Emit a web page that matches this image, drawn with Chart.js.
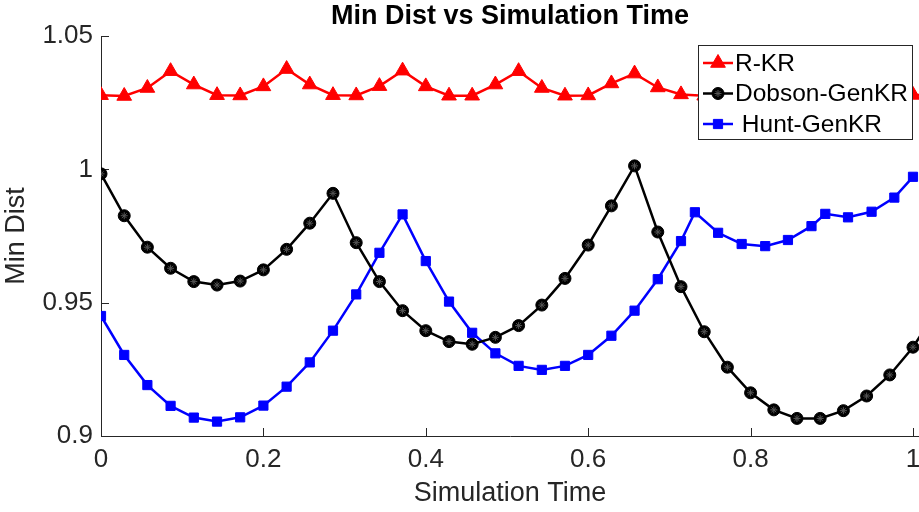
<!DOCTYPE html>
<html>
<head>
<meta charset="utf-8">
<script src="https://cdn.jsdelivr.net/npm/chart.js@4.4.1/dist/chart.umd.min.js"></script>
<style>
  html, body { margin: 0; padding: 0; background: #fff; overflow: hidden; }
  #wrap { width: 919px; height: 512px; position: relative; }
</style>
</head>
<body>
<div id="wrap"><canvas id="chart"></canvas></div>
<script>
// sample times for R-KR and Dobson-GenKR (last one lies just past the visible axis)
const time = [0, 0.0286, 0.0571, 0.0857, 0.1143, 0.1429, 0.1714, 0.2, 0.2286, 0.2571,
  0.2857, 0.3143, 0.3429, 0.3714, 0.4, 0.4286, 0.4571, 0.4857, 0.5143, 0.5429,
  0.5714, 0.6, 0.6286, 0.6571, 0.6857, 0.7143, 0.7429, 0.7714, 0.8, 0.8286,
  0.8571, 0.8857, 0.9143, 0.9429, 0.9714, 1.0, 1.0286];
// Hunt-GenKR is sampled a bit unevenly after t = 0.71
const huntTime = [0, 0.0286, 0.0571, 0.0857, 0.1143, 0.1429, 0.1714, 0.2, 0.2286, 0.2571,
  0.2857, 0.3143, 0.3429, 0.3714, 0.4, 0.4286, 0.4571, 0.4857, 0.5143, 0.5429,
  0.5714, 0.6, 0.6286, 0.6571, 0.6857, 0.7143, 0.7314, 0.760, 0.789, 0.818,
  0.846, 0.875, 0.892, 0.920, 0.949, 0.977, 1.0];

const rkr = [1.0278, 1.0275, 1.0305, 1.0368, 1.0318, 1.0278, 1.0277, 1.0311, 1.0376, 1.0318,
  1.0278, 1.0277, 1.0312, 1.0370, 1.0311, 1.0276, 1.0276, 1.0318, 1.0368, 1.0305,
  1.0276, 1.0277, 1.0322, 1.0359, 1.0307, 1.0281, 1.0276, 1.0305, 1.0362, 1.0312,
  1.0277, 1.0276, 1.0308, 1.0360, 1.0312, 1.0279, 1.0277];
const dobson = [0.9983, 0.9826, 0.9708, 0.9629, 0.9579, 0.9566, 0.9581, 0.9623, 0.9700, 0.9798,
  0.9910, 0.9725, 0.9579, 0.9470, 0.9395, 0.9354, 0.9344, 0.9370, 0.9414, 0.9491,
  0.9591, 0.9716, 0.9863, 1.0013, 0.9765, 0.9560, 0.9391, 0.9258, 0.9162, 0.9098,
  0.9066, 0.9066, 0.9095, 0.9150, 0.9229, 0.9333, 0.9469];
const hunt = [0.9450, 0.9304, 0.9191, 0.9113, 0.9069, 0.9054, 0.9070, 0.9114, 0.9185, 0.9276,
  0.9395, 0.9531, 0.9687, 0.9831, 0.9656, 0.9504, 0.9387, 0.9310, 0.9263, 0.9248,
  0.9263, 0.9304, 0.9376, 0.9470, 0.9588, 0.9731, 0.9839, 0.9762, 0.9720, 0.9712,
  0.9735, 0.9787, 0.9833, 0.9820, 0.9841, 0.9894, 0.9972];

const seriesNames = ['R-KR', 'Dobson-GenKR', ' Hunt-GenKR'];
const xTicks = [0, 0.2, 0.4, 0.6, 0.8, 1];
const xTickLabels = ['0', '0.2', '0.4', '0.6', '0.8', '1'];
const yTicks = [0.9, 0.95, 1, 1.05];
const yTickLabels = ['0.9', '0.95', '1', '1.05'];

const FONT = "'Liberation Sans', Arial, Helvetica, sans-serif";
const INK = '#262626';

function pts(xs, ys) {
    return ys.map((v, i) => ({ x: xs[i], y: v }));
}

// marker styles, shared by the datasets and the boxed legend
const styles = [
    { color: '#ff0000', pointStyle: 'triangle', radius: 8.5 },
    { color: '#000000', pointStyle: 'circle', radius: 6 },
    { color: '#0000ff', pointStyle: 'rect', radius: 6.5 }
];

// MATLAB style: tick marks pointing into the axes
const innerTicks = {
    id: 'innerTicks',
    beforeDatasetsDraw(chart) {
        const { ctx, chartArea } = chart;
        const xs = chart.scales.x, ys = chart.scales.y;
        ctx.save();
        ctx.strokeStyle = INK;
        ctx.lineWidth = 1;
        ctx.beginPath();
        xTicks.forEach(v => {
            const px = Math.round(xs.getPixelForValue(v)) + 0.5;
            ctx.moveTo(px, chartArea.bottom);
            ctx.lineTo(px, chartArea.bottom - 8);
        });
        yTicks.forEach(v => {
            const py = Math.round(ys.getPixelForValue(v)) + 0.5;
            ctx.moveTo(chartArea.left, py);
            ctx.lineTo(chartArea.left + 8, py);
        });
        ctx.stroke();
        ctx.restore();
    }
};

// boxed legend sitting inside the plot, top right
const boxLegend = {
    id: 'boxLegend',
    afterDatasetsDraw(chart) {
        const ctx = chart.ctx;
        const left = 698, top = 45, w = 214, h = 94;
        ctx.save();
        ctx.fillStyle = '#ffffff';
        ctx.fillRect(left, top, w, h);
        ctx.strokeStyle = INK;
        ctx.lineWidth = 1;
        ctx.strokeRect(left + 0.5, top + 0.5, w, h);
        ctx.font = '24.5px ' + FONT;
        ctx.textBaseline = 'middle';
        ctx.textAlign = 'left';
        seriesNames.forEach((name, i) => {
            const y = top + 18 + i * 30.5;
            const s = styles[i];
            ctx.strokeStyle = s.color;
            ctx.fillStyle = s.color;
            ctx.lineWidth = 2.5;
            ctx.beginPath();
            ctx.moveTo(left + 5, y);
            ctx.lineTo(left + 35, y);
            ctx.stroke();
            ctx.lineWidth = 1;
            Chart.helpers.drawPoint(ctx, { pointStyle: s.pointStyle, radius: s.radius, rotation: 0, borderWidth: 1 }, left + 20, y);
            if (i === 1) {
                ctx.strokeStyle = '#555555';
                Chart.helpers.drawPoint(ctx, { pointStyle: 'star', radius: 3.5, rotation: 0, borderWidth: 1 }, left + 20, y);
            }
            ctx.fillStyle = '#000000';
            ctx.fillText(name, left + 37, y + 1);
        });
        ctx.restore();
    }
};

function lineSet(label, xs, ys, s, order) {
    return {
        label: label,
        data: pts(xs, ys),
        borderColor: s.color,
        backgroundColor: s.color,
        borderWidth: 2.5,
        pointStyle: s.pointStyle,
        pointRadius: s.radius,
        pointBorderWidth: 1,
        pointBackgroundColor: s.color,
        pointBorderColor: s.color,
        tension: 0,
        order: order
    };
}

new Chart(document.getElementById('chart'), {
    type: 'line',
    data: {
        datasets: [
            lineSet(seriesNames[0], time, rkr, styles[0], 0),
            {
                // the little asterisk drawn inside each Dobson circle
                label: 'star',
                data: pts(time, dobson),
                showLine: false,
                pointStyle: 'star',
                pointRadius: 3.5,
                pointBorderWidth: 1,
                pointBorderColor: '#555555',
                pointBackgroundColor: '#555555',
                order: 1
            },
            lineSet(seriesNames[1], time, dobson, styles[1], 2),
            lineSet(seriesNames[2], huntTime, hunt, styles[2], 3)
        ]
    },
    options: {
        responsive: true,
        maintainAspectRatio: false,
        animation: false,
        devicePixelRatio: 1,
        layout: { padding: 0, autoPadding: false },
        plugins: {
            legend: { display: false },
            tooltip: { enabled: false },
            title: {
                display: true,
                text: 'Min Dist vs Simulation Time',
                color: '#000000',
                fullSize: false,
                font: { family: FONT, size: 27, weight: 'bold' },
                padding: { top: 0, bottom: 3.6 }
            }
        },
        scales: {
            x: {
                type: 'linear',
                min: 0,
                max: 1.0074,
                afterBuildTicks: axis => { axis.ticks = xTicks.map(v => ({ value: v })); },
                afterFit: axis => { axis.height = 76; axis.paddingLeft = 0; axis.paddingRight = 0; },
                ticks: {
                    color: INK,
                    padding: 8,
                    autoSkip: false,
                    maxRotation: 0,
                    font: { family: FONT, size: 26 },
                    callback: (v, i) => xTickLabels[i]
                },
                grid: { display: true, drawOnChartArea: false, drawTicks: false, color: INK },
                border: { display: true, color: INK, width: 1 },
                title: {
                    display: true,
                    text: 'Simulation Time',
                    color: INK,
                    font: { family: FONT, size: 27 },
                    padding: { top: 0, bottom: 2 }
                }
            },
            y: {
                min: 0.9,
                max: 1.05,
                afterBuildTicks: axis => { axis.ticks = yTicks.map(v => ({ value: v })); },
                afterFit: axis => { axis.width = 101; },
                ticks: {
                    color: INK,
                    padding: 8,
                    font: { family: FONT, size: 26 },
                    callback: (v, i) => yTickLabels[i]
                },
                grid: { display: true, drawOnChartArea: false, drawTicks: false, color: INK },
                border: { display: true, color: INK, width: 1 },
                title: {
                    display: true,
                    text: 'Min Dist',
                    color: INK,
                    font: { family: FONT, size: 27 },
                    padding: { top: 0, bottom: 6 }
                }
            }
        }
    },
    plugins: [innerTicks, boxLegend]
});
</script>
</body>
</html>
